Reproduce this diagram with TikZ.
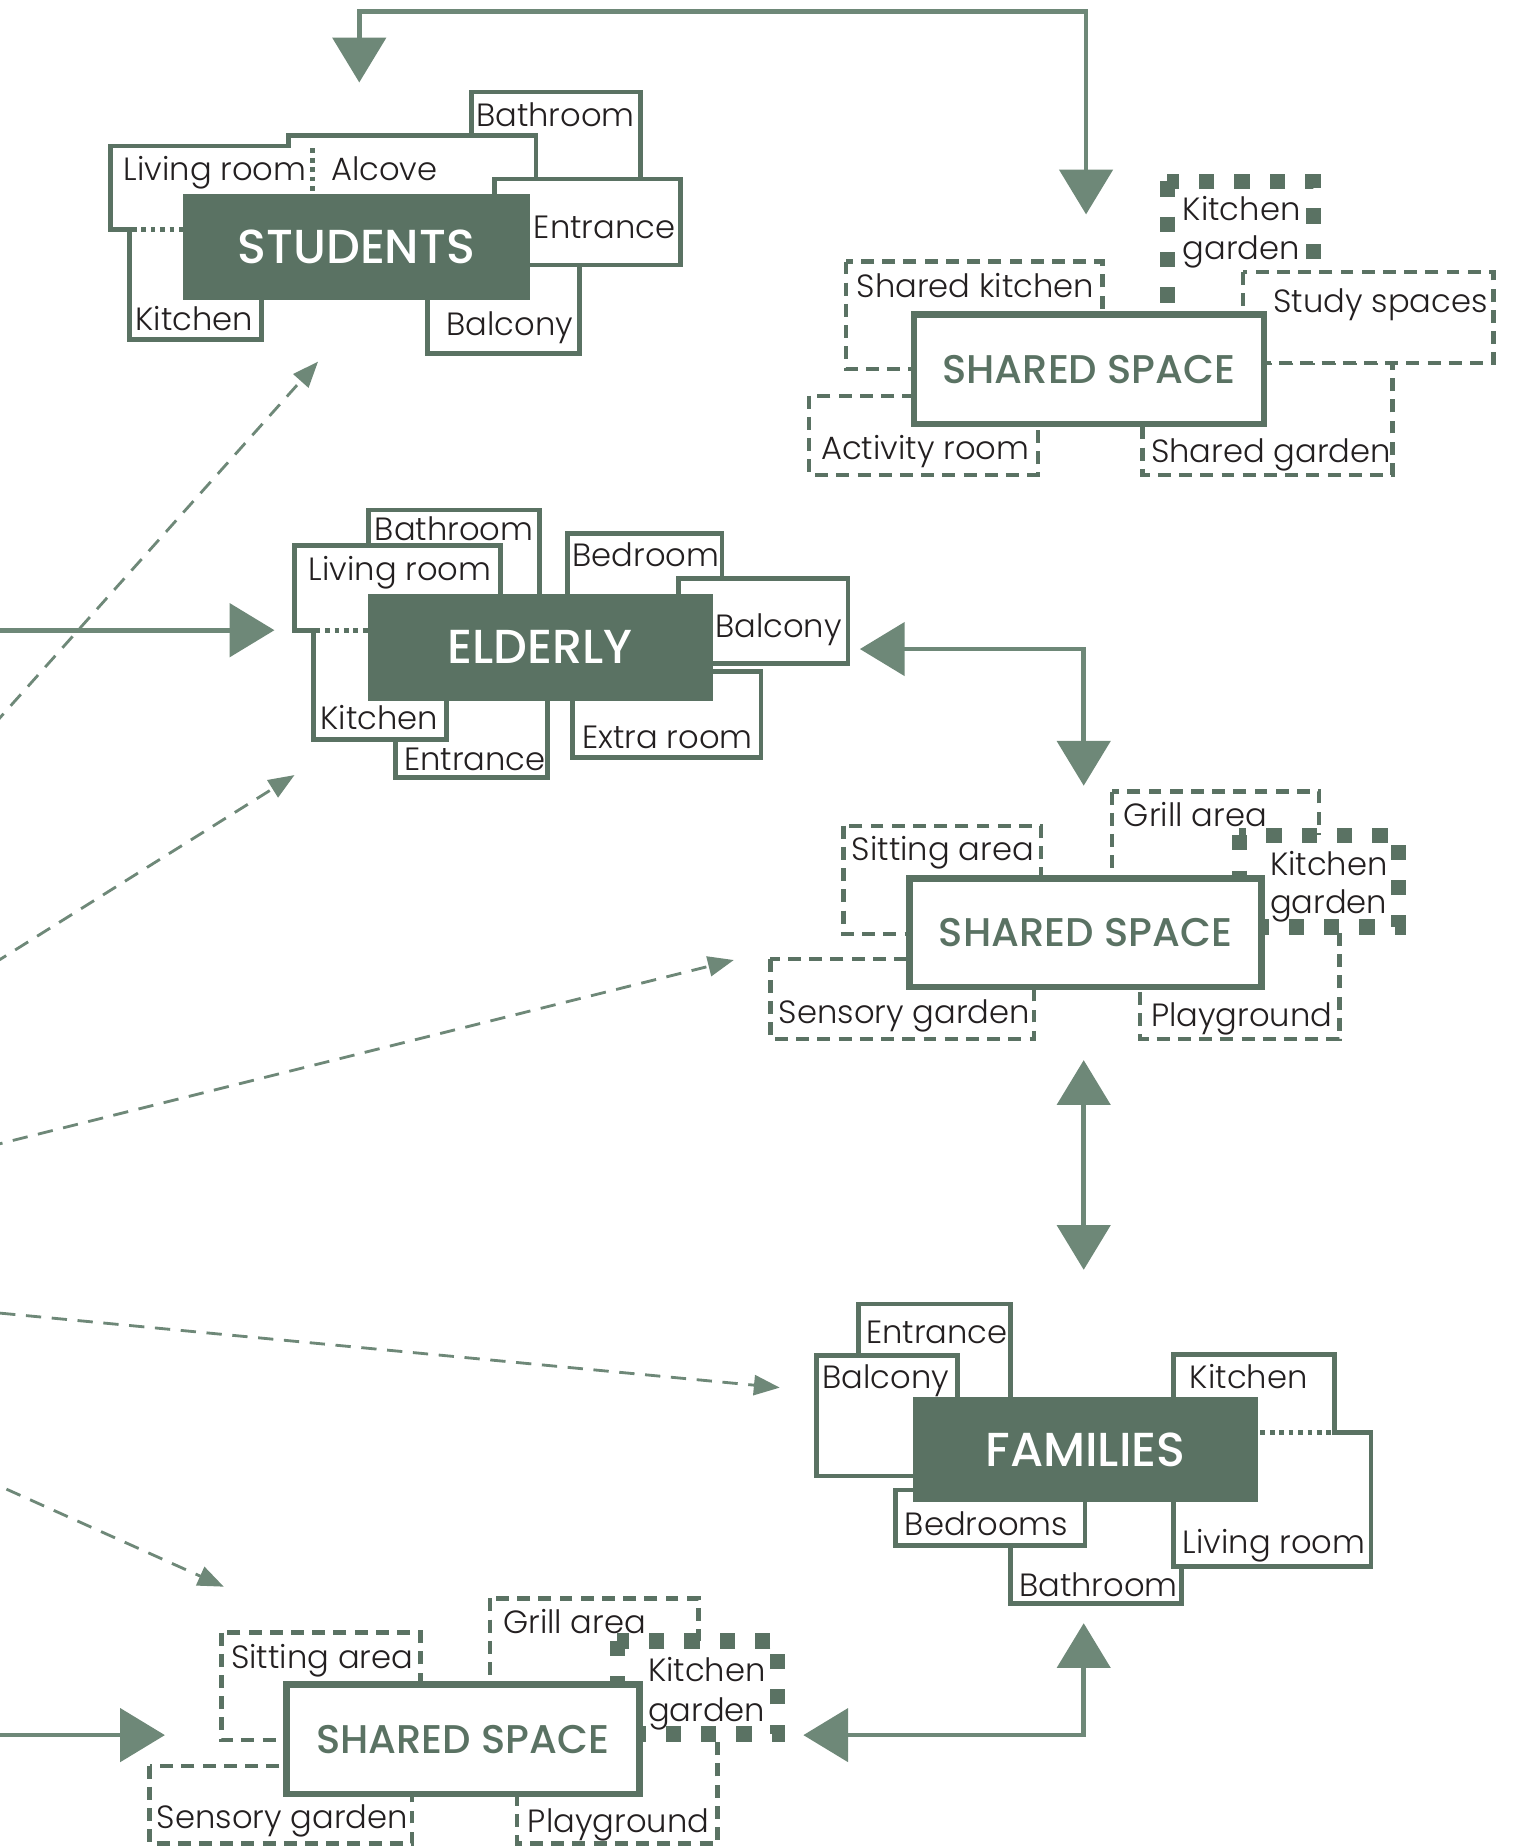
\documentclass[tikz,border=0pt]{standalone}
\usepackage{fontspec}
\usetikzlibrary{arrows.meta}
\IfFontExistsTF{Poppins Light}{\setmainfont{Poppins Light}}{\setmainfont{Poppins}}
\IfFontExistsTF{Poppins Medium}{\newfontfamily\headfont{Poppins Medium}}{\newfontfamily\headfont{Poppins}}
\definecolor{dk}{HTML}{5A7263}
\definecolor{arr}{HTML}{6E8878}
\definecolor{ink}{HTML}{231F20}
\tikzset{
  room/.style={draw=dk, line width=4pt, fill=white},
  droom/.style={draw=dk, line width=3.7pt, fill=white, dash pattern=on 11pt off 7pt},
  kgroom/.style={draw=dk, line width=13pt, fill=white, dash pattern=on 13pt off 17pt},
  sep/.style={draw=dk, line width=4pt, dash pattern=on 4pt off 4pt},
  core/.style={fill=dk, text=white, inner sep=0pt, font=\headfont\fontsize{40.5}{40}\selectfont},
  hub/.style={draw=dk, line width=5.7pt, fill=white, text=dk, inner sep=0pt, font=\headfont\fontsize{34}{34}\selectfont},
  lbl/.style={anchor=base west, inner sep=0pt, text=ink, font=\fontsize{27.3}{27}\selectfont},
  link/.style={draw=arr, line width=4pt, -{Triangle[length=38pt,width=45pt]}},
  both/.style={draw=arr, line width=4pt, {Triangle[length=38pt,width=45pt]}-{Triangle[length=38pt,width=45pt]}},
  hint/.style={draw=arr, line width=2.4pt, dash pattern=on 13pt off 9pt, -{Triangle[length=22pt,width=17pt]}},
}
\begin{document}
\begin{tikzpicture}[x=1pt,y=-1pt]
\useasboundingbox (0,0) rectangle (1284,1568);
\clip (0,0) rectangle (1284,1568);

% ---------- Students ----------
\draw[room] (400,78) rectangle (544,170);
\draw[room] (94,124) -- (245,124) -- (245,115) -- (455,115) -- (455,200) -- (222,200)
  -- (222,288) -- (110,288) -- (110,195) -- (94,195) -- cycle;
\draw[room] (363,215) rectangle (492,300);
\draw[room] (420,152) rectangle (578,225);
\node[core, minimum width=295pt, minimum height=90pt] (stu) at (302.5,210) {STUDENTS};
\draw[sep] (265,126) -- (265,165);
\draw[sep] (112,195) -- (155,195);
\node[lbl] (stuBath) at (404,107.5) {Bathroom};
\node[lbl] (stuLiv) at (105,153.5) {Living room};
\node[lbl] (stuAlc) at (281,153.5) {Alcove};
\node[lbl] (stuEnt) at (453,202.5) {Entrance};
\node[lbl] (stuKit) at (115,280.5) {Kitchen};
\node[lbl] (stuBal) at (379,284.5) {Balcony};

% ---------- Elderly ----------
\draw[room] (313,433) rectangle (458,520);
\draw[room] (336,580) rectangle (465,660);
\draw[room] (250,463) -- (425,463) -- (425,560) -- (379,560) -- (379,628)
  -- (266,628) -- (266,535) -- (250,535) -- cycle;
\draw[room] (482,453) rectangle (613,540);
\draw[room] (576,491) rectangle (720,563);
\draw[room] (486,570) rectangle (646,643);
\node[core, minimum width=293pt, minimum height=91pt] (eld) at (458.5,549.5) {ELDERLY};
\draw[sep] (268,535) -- (312,535);
\node[lbl] (eldBath) at (318,458.5) {Bathroom};
\node[lbl] (eldLiv) at (262,492.5) {Living room};
\node[lbl] (eldBed) at (486,480.5) {Bedroom};
\node[lbl] (eldBal) at (607,541.5) {Balcony};
\node[lbl] (eldKit) at (272,619.5) {Kitchen};
\node[lbl] (eldEnt) at (343,654.5) {Entrance};
\node[lbl] (eldExt) at (494,635.5) {Extra room};

% ---------- Shared space (students) ----------
\draw[droom] (718,222) rectangle (936,313);
\draw[droom] (687,336) rectangle (881,403);
\draw[kgroom] (991,154) rectangle (1115,290);
\draw[droom] (970,308) rectangle (1182,403);
\draw[droom] (1055,231) rectangle (1268,308);
\node[hub, minimum width=297pt, minimum height=93pt] (ssA) at (924.5,313.5) {SHARED SPACE};
\node[lbl] (ssAkit) at (727,252.5) {Shared kitchen};
\node[lbl] (ssAkg1) at (1004,187.5) {Kitchen};
\node[lbl] (ssAkg2) at (1004,220.5) {garden};
\node[lbl] (ssAstu) at (1081,265.5) {Study spaces};
\node[lbl] (ssAact) at (697,390.5) {Activity room};
\node[lbl] (ssAgar) at (977,392.5) {Shared garden};

% ---------- Shared space (elderly) ----------
\draw[droom] (716,701) rectangle (884,793);
\draw[droom] (944,672) rectangle (1120,760);
\draw[droom] (654,814) rectangle (878,882);
\draw[droom] (968,770) rectangle (1137,882);
\draw[kgroom] (1052,709) rectangle (1187,787);
\node[hub, minimum width=299pt, minimum height=92pt] (ssB) at (921.5,792) {SHARED SPACE};
\node[lbl] (ssBsit) at (723,730.5) {Sitting area};
\node[lbl] (ssBgri) at (954,701.5) {Grill area};
\node[lbl] (ssBkg1) at (1078,743.5) {Kitchen};
\node[lbl] (ssBkg2) at (1078,775.5) {garden};
\node[lbl] (ssBsen) at (661,868.5) {Sensory garden};
\node[lbl] (ssBpla) at (977,871.5) {Playground};

% ---------- Families ----------
\draw[room] (729,1107) rectangle (858,1200);
\draw[room] (693,1151) rectangle (813,1253);
\draw[room] (858,1260) rectangle (1003,1361);
\draw[room] (996,1150) -- (1133,1150) -- (1133,1216) -- (1164,1216) -- (1164,1330)
  -- (996,1330) -- cycle;
\draw[room] (760,1265) rectangle (921,1312);
\node[core, minimum width=293pt, minimum height=89pt] (fam) at (921.5,1230.5) {FAMILIES};
\draw[sep] (1070,1216) -- (1131,1216);
\node[lbl] (famEnt) at (735,1140.5) {Entrance};
\node[lbl] (famBal) at (698,1178.5) {Balcony};
\node[lbl] (famKit) at (1010,1178.5) {Kitchen};
\node[lbl] (famLiv) at (1004,1318.5) {Living room};
\node[lbl] (famBed) at (768,1303.5) {Bedrooms};
\node[lbl] (famBath) at (865,1355.5) {Bathroom};

% ---------- Shared space (families) ----------
\draw[droom] (188,1386) rectangle (357,1477);
\draw[droom] (416,1357) rectangle (593,1440);
\draw[droom] (127,1499) rectangle (350,1565);
\draw[droom] (439,1450) rectangle (609,1565);
\draw[kgroom] (524,1393) rectangle (660,1472);
\node[hub, minimum width=300pt, minimum height=93pt] (ssC) at (393,1476.5) {SHARED SPACE};
\node[lbl] (ssCsit) at (196,1416.5) {Sitting area};
\node[lbl] (ssCgri) at (427,1386.5) {Grill area};
\node[lbl] (ssCkg1) at (550,1427.5) {Kitchen};
\node[lbl] (ssCkg2) at (550,1461.5) {garden};
\node[lbl] (ssCsen) at (133,1552.5) {Sensory garden};
\node[lbl] (ssCpla) at (448,1555.5) {Playground};

% ---------- Connectors ----------
\coordinate (stuTop) at (305,70);
\coordinate (ssATop) at (922,182);
\coordinate (railL) at (305,10);
\coordinate (railR) at (922,10);
\draw[both] (stuTop) -- (railL) -- (railR) -- (ssATop);

\coordinate (eldRight) at (730,551);
\coordinate (ssBTop) at (920,667);
\draw[both] (eldRight) -| (ssBTop);

\coordinate (ssBBot) at (920,900);
\coordinate (famTop) at (920,1078);
\draw[both] (ssBBot) -- (famTop);

\coordinate (ssCRight) at (682,1473);
\coordinate (famBot) at (920,1378);
\draw[both] (ssCRight) -| (famBot);

\coordinate (inEld) at (-5,535);
\coordinate (eldLeft) at (233,535);
\draw[link] (inEld) -- (eldLeft);
\coordinate (inSsC) at (-5,1473);
\coordinate (ssCLeft) at (140,1473);
\draw[link] (inSsC) -- (ssCLeft);

\coordinate (origin) at (-416,1075);
\coordinate (toStu) at (270,307);
\coordinate (toEld) at (250,658);
\coordinate (toSsB) at (623,815);
\coordinate (toFam) at (662,1178);
\coordinate (toSsC) at (190,1347);
\draw[hint] (origin) -- (toStu);
\draw[hint] (origin) -- (toEld);
\draw[hint] (origin) -- (toSsB);
\draw[hint] (origin) -- (toFam);
\draw[hint] (origin) -- (toSsC);
\end{tikzpicture}
\end{document}
